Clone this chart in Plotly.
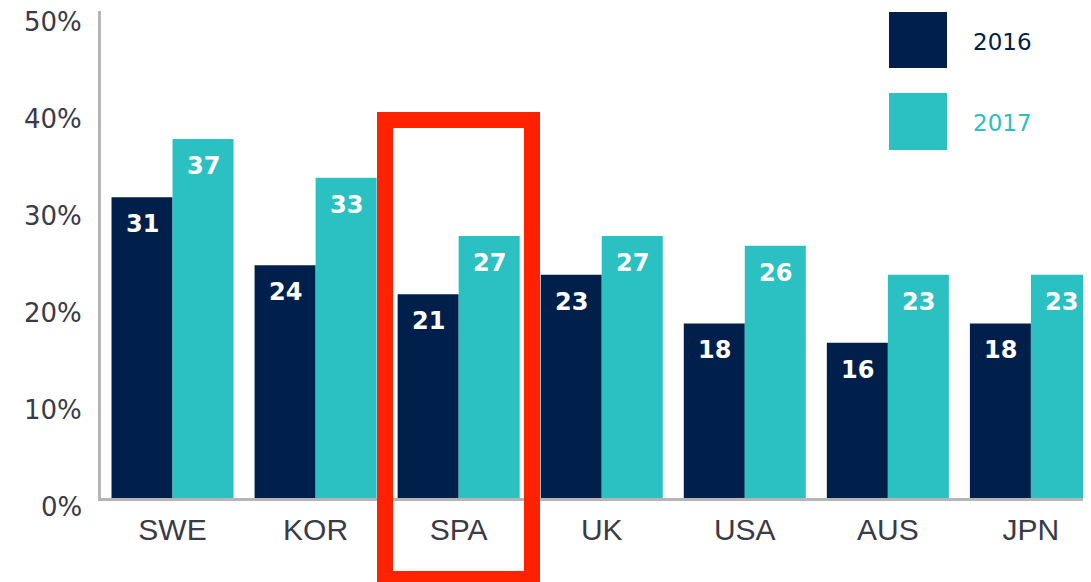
import plotly.graph_objects as go

countries = ["SWE", "KOR", "SPA", "UK", "USA", "AUS", "JPN"]
vals_2016 = [31, 24, 21, 23, 18, 16, 18]
vals_2017 = [37, 33, 27, 27, 26, 23, 23]
y_ticks = [0, 10, 20, 30, 40, 50]
y_tick_labels = ["0%", "10%", "20%", "30%", "40%", "50%"]

NAVY = "#001f4b"
TEAL = "#2bc0c2"
RED = "#ff2200"
GREY = "#b5b5b5"

W, H = 1091, 582
OFF = 8  # page body margin, the figure starts 8px in
# plot area in screen pixels
PL, PR, PT, PB = 101, 1091, 11, 498
L = PL - OFF
T = PT - OFF
R = W - (PR - OFF)
B = H - (PB - OFF)


def px2x(px):
    # screen pixel -> paper x
    return (px - PL) / (PR - PL)


def py2y(py):
    # screen pixel -> paper y
    return (PB - py) / (PB - PT)


fig = go.Figure()

fig.add_trace(go.Bar(x=countries, y=vals_2016, name="2016",
                     marker=dict(color=NAVY, line_width=0)))
fig.add_trace(go.Bar(x=countries, y=vals_2017, name="2017",
                     marker=dict(color=TEAL, line_width=0)))

# value labels inside the top of each bar
for c, v in zip(countries, vals_2016):
    fig.add_annotation(x=c, y=v, xref="x", yref="y", text=f"<b>{v}</b>",
                       showarrow=False, xshift=-30.5, yshift=-27,
                       font=dict(family="DejaVu Sans", size=24, color="white"))
for c, v in zip(countries, vals_2017):
    fig.add_annotation(x=c, y=v, xref="x", yref="y", text=f"<b>{v}</b>",
                       showarrow=False, xshift=30.5, yshift=-27,
                       font=dict(family="DejaVu Sans", size=24, color="white"))

# y tick labels (sit a little below their tick in the original)
for v, t in zip(y_ticks, y_tick_labels):
    fig.add_annotation(xref="paper", yref="y", x=0, y=v, text=t,
                       xanchor="right", yanchor="middle", showarrow=False,
                       xshift=-17, yshift=-9,
                       font=dict(family="DejaVu Sans", size=26, color="#3a3a48"))

# custom legend: big squares + labels
fig.add_shape(type="rect", xref="paper", yref="paper",
              x0=px2x(889), x1=px2x(947), y0=py2y(68), y1=py2y(12),
              fillcolor=NAVY, line_width=0)
fig.add_shape(type="rect", xref="paper", yref="paper",
              x0=px2x(889), x1=px2x(947), y0=py2y(150), y1=py2y(93),
              fillcolor=TEAL, line_width=0)
fig.add_annotation(xref="paper", yref="paper", x=px2x(971), y=py2y(42),
                   xanchor="left", yanchor="middle", text="2016", showarrow=False,
                   font=dict(family="DejaVu Sans", size=23, color=NAVY))
fig.add_annotation(xref="paper", yref="paper", x=px2x(971), y=py2y(123),
                   xanchor="left", yanchor="middle", text="2017", showarrow=False,
                   font=dict(family="DejaVu Sans", size=23, color=TEAL))

# red highlight box around SPA
fig.add_shape(type="rect", xref="paper", yref="paper",
              x0=px2x(385), x1=px2x(532), y0=py2y(579), y1=py2y(120),
              line=dict(color=RED, width=16), fillcolor="rgba(0,0,0,0)")

fig.update_layout(
    width=W, height=H,
    margin=dict(l=L, r=R, t=T, b=B, pad=0),
    plot_bgcolor="white", paper_bgcolor="white",
    barmode="group", bargap=0.147, bargroupgap=0,
    showlegend=False,
    xaxis=dict(range=[-0.5, 6.42], showgrid=False, zeroline=False,
               showline=True, linecolor=GREY, linewidth=3,
               ticks="", ticklabelstandoff=3,
               tickfont=dict(family="Liberation Sans", size=30, color="#3a3a48")),
    yaxis=dict(range=[0, 50.2], showgrid=False, zeroline=False,
               showline=True, linecolor=GREY, linewidth=3,
               ticks="", showticklabels=False),
)

fig.write_html("out.html")
